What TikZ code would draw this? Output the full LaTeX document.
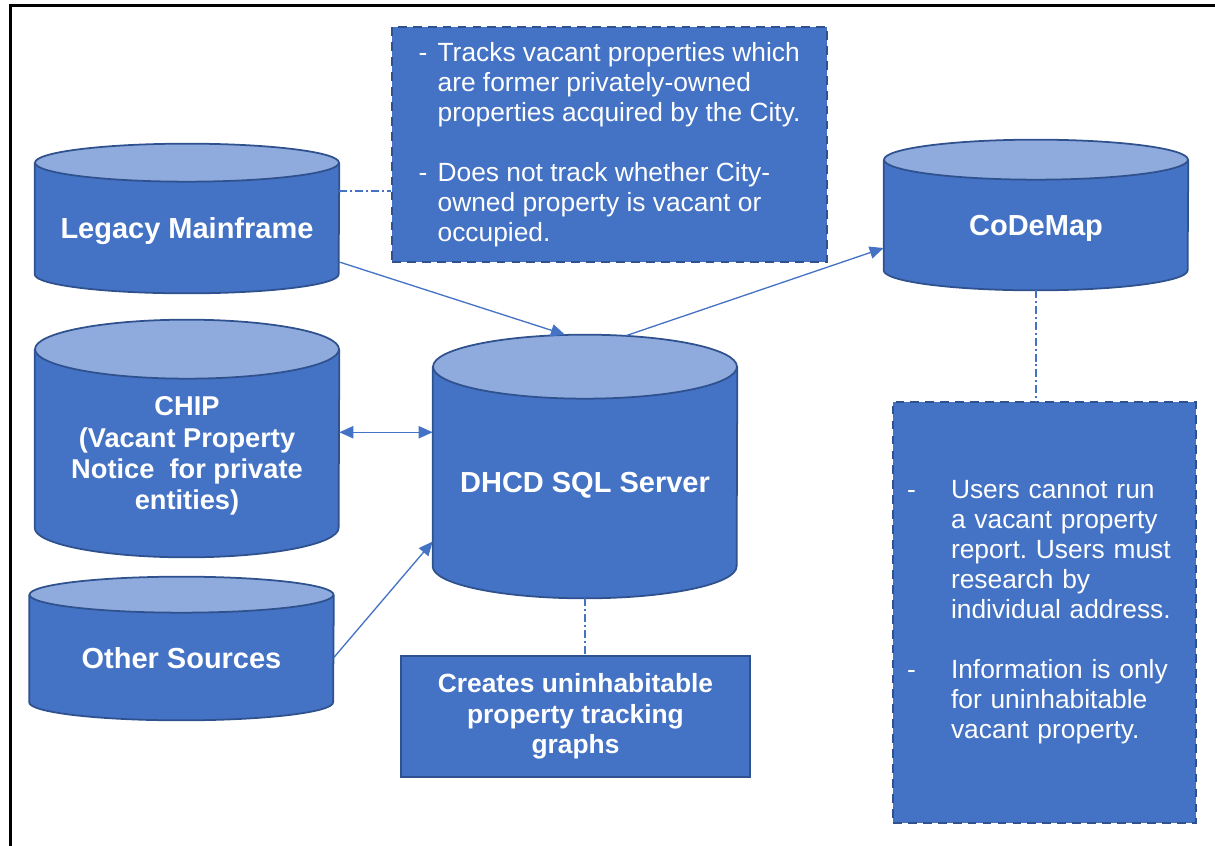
\documentclass[tikz,border=0pt]{standalone}
\usepackage{fontspec}
\setmainfont{Liberation Sans}
\usetikzlibrary{arrows.meta,backgrounds}

\definecolor{dbblue}{HTML}{4472C4}
\definecolor{dblight}{HTML}{8FAADC}
\definecolor{dbedge}{HTML}{2F528F}

\frenchspacing

\begin{document}
\begin{tikzpicture}[x=0.02cm, y=-0.02cm, >={Triangle[length=8pt,width=7pt]},
  db/.style={minimum width=6.08cm, inner sep=0pt, text depth=0pt, text=white, align=center, font=\fontsize{16.5}{17.3}\selectfont\bfseries},
  note/.style={fill=dbblue, draw=dbedge, line width=1.1pt, dash pattern=on 5pt off 3.5pt, text=white, align=left, inner sep=0pt, font=\fontsize{15}{17.1}\selectfont},
  flow/.style={dbblue, line width=0.75pt, ->},
  link/.style={dbblue, line width=0.6pt, dash pattern=on 4.5pt off 1.7pt on 1.1pt off 1.7pt}]
  \useasboundingbox (0,0) rectangle (1215,846);
  \draw[black, line width=1.5pt] (10.5,846) -- (10.5,5.5) -- (1215,5.5);

  % databases
  \node[db, minimum height=2.6cm] (legacy) at (187,228) {Legacy Mainframe};
  \node[db, minimum height=4.15cm, font=\fontsize{15.5}{17.8}\selectfont\bfseries] (chip) at (187,453.25) {CHIP\\(Vacant Property\\Notice\ \ for private\\entities)};
  \node[db, minimum height=4.62cm] (dhcd) at (585,482.5) {DHCD SQL Server};
  \node[db, minimum height=2.5cm] (other) at (181.5,657.5) {Other Sources};
  \node[db, minimum height=2.6cm] (codemap) at (1036,225) {CoDeMap};

  \begin{pgfonlayer}{background}
    \foreach \n/\r in {legacy/19, chip/29.5, dhcd/32, other/18, codemap/20} {
      \fill[dbblue] (\n.north west) -- ([yshift=\r*0.02cm]\n.south west) arc[start angle=180, end angle=360, x radius=3.04cm, y radius=\r*0.02cm] -- (\n.north east) -- cycle;
      \draw[dbedge, line width=1pt] (\n.north west) -- ([yshift=\r*0.02cm]\n.south west) arc[start angle=180, end angle=360, x radius=3.04cm, y radius=\r*0.02cm] -- (\n.north east);
      \draw[dbedge, line width=1pt, fill=dblight] (\n.north) ellipse [x radius=3.04cm, y radius=\r*0.02cm];
    }
  \end{pgfonlayer}

  % notes
  \node[note, minimum width=8.7cm, minimum height=4.7cm] (mainnote) at (609.5,144.5) {%
    \makebox[0.38cm][l]{-}Tracks vacant properties which\\
    \hspace*{0.38cm}are former privately-owned\\
    \hspace*{0.38cm}properties acquired by the City.\\[17pt]
    \makebox[0.38cm][l]{-}Does not track whether City-\\
    \hspace*{0.38cm}owned property is vacant or\\
    \hspace*{0.38cm}occupied.};
  \node[note, minimum height=8.42cm, text width=5.5cm, inner xsep=0.28cm] (usernote) at (1044.5,612.5) {%
    \makebox[0.88cm][l]{-}Users cannot run\\
    \hspace*{0.88cm}a vacant property\\
    \hspace*{0.88cm}report. Users must\\
    \hspace*{0.88cm}research by\\
    \hspace*{0.88cm}individual address.\\[17pt]
    \makebox[0.88cm][l]{-}Information is only\\
    \hspace*{0.88cm}for uninhabitable\\
    \hspace*{0.88cm}vacant property.};
  \node[draw=dbedge, fill=dbblue, line width=1.1pt, minimum width=6.98cm, minimum height=2.42cm, inner sep=0pt, text=white, align=center, font=\fontsize{15}{17.3}\selectfont\bfseries] (graphs) at (575.5,716.5) {Creates uninhabitable\\property tracking\\graphs};

  % connectors
  \coordinate (chipport) at ([shift={(0,-21)}]chip.east);
  \coordinate (legacyport) at ([shift={(0,-37)}]legacy.east);
  \draw[flow] ([shift={(0,34)}]legacy.east) -- ([shift={(-20,-32)}]dhcd.north);
  \draw[flow] ([shift={(41,-31)}]dhcd.north) -- ([shift={(0,23)}]codemap.west);
  \draw[flow, <->] (chipport) -- (chipport -| dhcd.west);
  \draw[flow] (other.east) -- ([shift={(0,59)}]dhcd.west);
  \draw[link] (legacyport) -- (legacyport -| mainnote.west);
  \draw[link] (dhcd.south) -- (dhcd.south |- graphs.north);
  \draw[link] (codemap.south) -- (codemap.south |- usernote.north);
\end{tikzpicture}
\end{document}
